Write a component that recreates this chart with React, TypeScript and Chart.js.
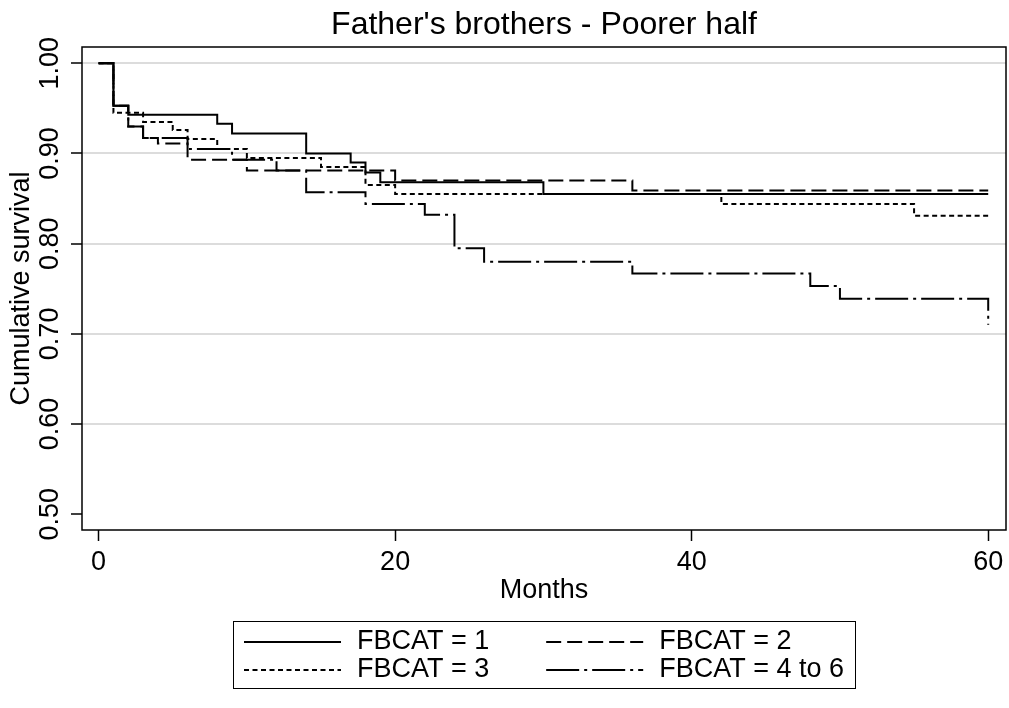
import { useEffect, useRef } from 'react';
import { Chart, registerables } from 'chart.js';

Chart.register(...registerables);

// ---- text ----
const chartTitle = "Father's brothers - Poorer half";
const xAxisTitle = 'Months';
const yAxisTitle = 'Cumulative survival';

// ---- axis ticks ----
const xTickValues = [0, 20, 40, 60];
const xTickLabels = ['0', '20', '40', '60'];
const yTickValues = [0.5, 0.6, 0.7, 0.8, 0.9, 1.0];
const yTickLabels = ['0.50', '0.60', '0.70', '0.80', '0.90', '1.00'];
const yGridValues = [0.6, 0.7, 0.8, 0.9, 1.0];

// ---- Kaplan-Meier step data (month of event, survival after it) ----
const seriesLabels = ['FBCAT = 1', 'FBCAT = 2', 'FBCAT = 3', 'FBCAT = 4 to 6'];

const fb1Months = [0, 1, 2, 8, 9, 14, 17, 18, 19, 30, 60];
const fb1Surv = [1.0, 0.953, 0.943, 0.933, 0.922, 0.9, 0.89, 0.879, 0.868, 0.855, 0.855];

const fb2Months = [0, 1, 2, 3, 4, 6, 10, 20, 36, 60];
const fb2Surv = [1.0, 0.953, 0.93, 0.917, 0.911, 0.893, 0.881, 0.87, 0.859, 0.859];

const fb3Months = [0, 1, 3, 5, 6, 8, 10, 15, 18, 20, 42, 55, 60];
const fb3Surv = [1.0, 0.945, 0.935, 0.926, 0.916, 0.905, 0.895, 0.885, 0.865, 0.855, 0.844, 0.831, 0.831];

const fb4Months = [0, 1, 2, 3, 6, 9, 12, 14, 18, 22, 24, 26, 36, 48, 50, 60];
const fb4Surv = [1.0, 0.953, 0.93, 0.917, 0.905, 0.893, 0.881, 0.857, 0.844, 0.832, 0.795, 0.78, 0.767, 0.753, 0.739, 0.71];

// line patterns: solid, long dash, short dash, dash-dot
const dashPatterns: number[][] = [[], [15, 6], [5, 3.5], [33, 5, 3, 5]];

const FONT = '"Liberation Sans", Arial, Helvetica, sans-serif';

function putText(
  ctx: CanvasRenderingContext2D,
  text: string,
  x: number,
  y: number,
  size: number,
  align: CanvasTextAlign,
  angle = 0
) {
  ctx.save();
  ctx.translate(x, y);
  if (angle) ctx.rotate(angle);
  ctx.font = `${size}px ${FONT}`;
  ctx.fillStyle = '#000';
  ctx.textAlign = align;
  ctx.textBaseline = 'middle';
  ctx.fillText(text, 0, 0);
  ctx.restore();
}

const decorPlugin = {
  id: 'decor',
  afterDraw(chart: any) {
    const { ctx, chartArea: a, scales } = chart;
    const xs = scales.x;
    const ys = scales.y;

    // plot frame
    ctx.save();
    ctx.strokeStyle = '#000';
    ctx.lineWidth = 1.5;
    ctx.strokeRect(a.left, a.top, a.right - a.left, a.bottom - a.top);
    ctx.restore();

    // title and axis titles
    const cx = (a.left + a.right) / 2;
    putText(ctx, chartTitle, cx, 25, 32, 'center');
    putText(ctx, xAxisTitle, cx, 591, 27, 'center');
    putText(ctx, yAxisTitle, 22, (a.top + a.bottom) / 2, 27, 'center', -Math.PI / 2);

    // tick labels
    xTickValues.forEach((v, i) => {
      putText(ctx, xTickLabels[i], xs.getPixelForValue(v), 563, 27, 'center');
    });
    yTickValues.forEach((v, i) => {
      putText(ctx, yTickLabels[i], 51, ys.getPixelForValue(v), 27, 'center', -Math.PI / 2);
    });

    // legend: two columns in a box centred under the plot
    const fs = 27;
    ctx.save();
    ctx.font = `${fs}px ${FONT}`;
    const w = seriesLabels.map((s) => ctx.measureText(s).width);
    ctx.restore();
    const boxW = 622, margin = 11, sample = 97, gap = 16;
    const col1Text = Math.max(w[0], w[2]);
    const col2Text = Math.max(w[1], w[3]);
    const colGap = boxW - (margin * 2 + sample * 2 + gap * 2 + col1Text + col2Text);
    const lx = Math.round(cx - boxW / 2), ly = 621, lh = 67;
    ctx.save();
    ctx.strokeStyle = '#000';
    ctx.lineWidth = 1;
    ctx.strokeRect(lx + 0.5, ly + 0.5, boxW, lh);
    ctx.restore();
    const rowsY = [642, 670];
    const colStart = [lx + margin, lx + margin + sample + gap + col1Text + colGap];
    seriesLabels.forEach((label, i) => {
      const r = Math.floor(i / 2);
      const c = i % 2;
      const x0 = colStart[c];
      ctx.save();
      ctx.strokeStyle = '#000';
      ctx.lineWidth = 2;
      ctx.setLineDash(dashPatterns[i]);
      ctx.beginPath();
      ctx.moveTo(x0, rowsY[r]);
      ctx.lineTo(x0 + sample, rowsY[r]);
      ctx.stroke();
      ctx.restore();
      putText(ctx, label, x0 + sample + gap, rowsY[r], fs, 'left');
    });
  },
};

function toPoints(months: number[], surv: number[]) {
  return months.map((m, i) => ({ x: m, y: surv[i] }));
}

export default function App() {
  const canvasRef = useRef<HTMLCanvasElement | null>(null);

  useEffect(() => {
    document.body.style.margin = '0';
    const canvas = canvasRef.current;
    if (!canvas) return;

    const series = [
      toPoints(fb1Months, fb1Surv),
      toPoints(fb2Months, fb2Surv),
      toPoints(fb3Months, fb3Surv),
      toPoints(fb4Months, fb4Surv),
    ];

    const chart = new Chart(canvas, {
      type: 'line',
      data: {
        datasets: series.map((pts, i) => ({
          label: seriesLabels[i],
          data: pts,
          stepped: 'before' as const,
          borderColor: '#000',
          borderWidth: 2,
          borderDash: dashPatterns[i],
          pointRadius: 0,
          fill: false,
          tension: 0,
        })),
      },
      options: {
        responsive: false,
        animation: false,
        devicePixelRatio: 1,
        layout: { padding: { left: 82, top: 47, right: 3, bottom: 178 } },
        plugins: {
          legend: { display: false },
          title: { display: false },
          tooltip: { enabled: false },
        },
        scales: {
          x: {
            type: 'linear',
            min: -1.12,
            max: 61.2,
            afterFit: (s: any) => {
              s.height = 0;
            },
            afterBuildTicks: (s: any) => {
              s.ticks = xTickValues.map((v) => ({ value: v }));
            },
            ticks: { display: false },
            border: { display: false },
            grid: {
              drawOnChartArea: false,
              drawTicks: true,
              tickLength: 11,
              tickColor: '#000',
              tickWidth: 1.5,
            },
          },
          y: {
            type: 'linear',
            min: 0.4826,
            max: 1.018,
            afterFit: (s: any) => {
              s.width = 0;
            },
            afterBuildTicks: (s: any) => {
              s.ticks = yTickValues.map((v) => ({ value: v }));
            },
            ticks: { display: false },
            border: { display: false },
            grid: {
              color: (c: any) =>
                c.tick && yGridValues.includes(c.tick.value) ? '#dcdcdc' : 'rgba(0,0,0,0)',
              lineWidth: 2,
              drawTicks: true,
              tickLength: 11,
              tickColor: '#000',
              tickWidth: 1.5,
            },
          },
        },
      },
      plugins: [decorPlugin],
    });

    return () => chart.destroy();
  }, []);

  return (
    <div style={{ position: 'absolute', left: 0, top: 0, width: 1009, height: 708 }}>
      <canvas ref={canvasRef} width={1009} height={708} style={{ display: 'block' }} />
    </div>
  );
}
